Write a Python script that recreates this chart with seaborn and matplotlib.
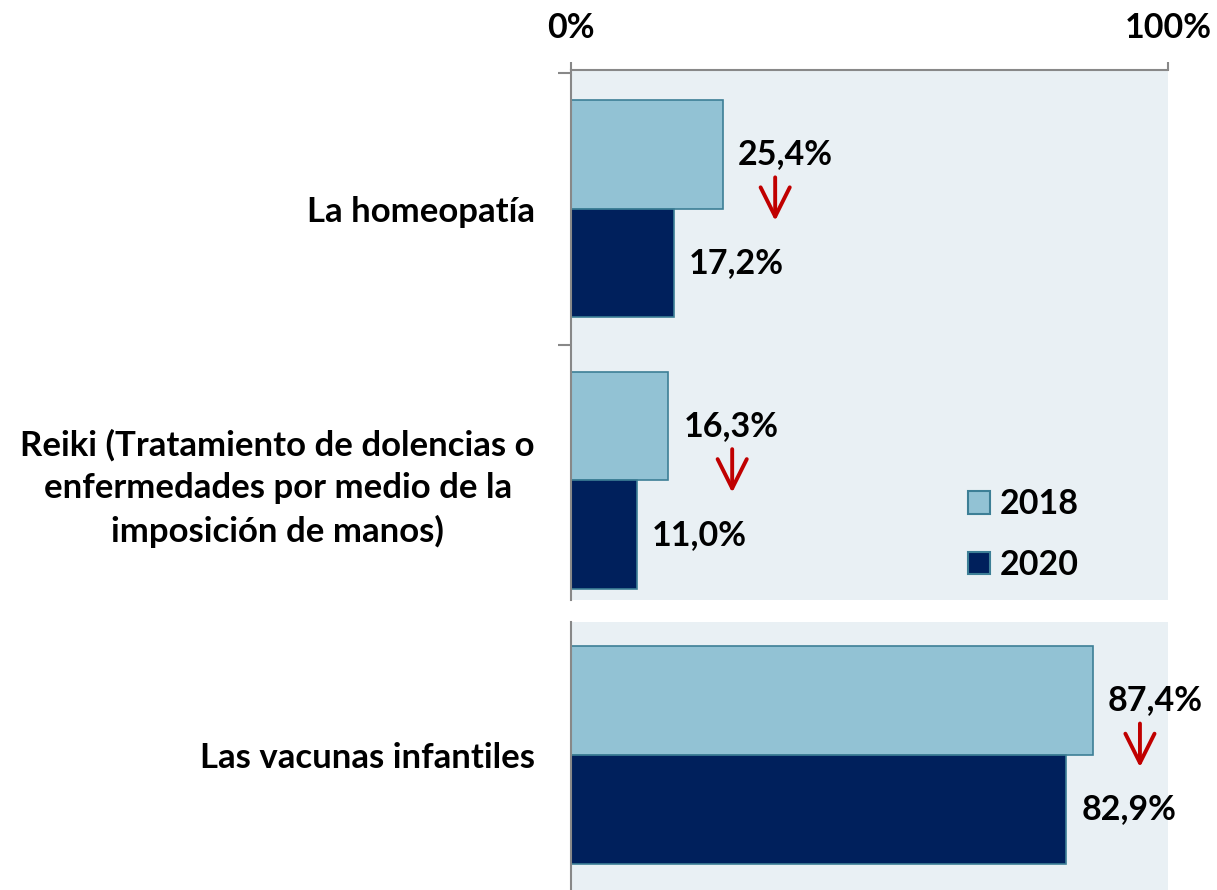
import seaborn as sns
import pandas as pd
import matplotlib.pyplot as plt
from matplotlib.patches import Patch

# data
categories = ["La homeopatía",
              "Reiki (Tratamiento de dolencias o\nenfermedades por medio de la\nimposición de manos)",
              "Las vacunas infantiles"]
years = ["2018", "2020"]
v2018 = [25.4, 16.3, 87.4]
v2020 = [17.2, 11.0, 82.9]
xticks = [0, 100]
xtick_labels = ["0%", "100%"]
# where the red arrows sit, to the right of the 2018 bar end (in % units)
arrow_dx = [8.8, 10.7, 7.9]

df = pd.DataFrame({
    "cat": categories * 2,
    "year": [years[0]] * 3 + [years[1]] * 3,
    "val": v2018 + v2020,
})

sns.set_style("white")
plt.rcParams["font.family"] = ["Lato", "DejaVu Sans"]
plt.rcParams["font.weight"] = "bold"
plt.rcParams["text.color"] = "black"

c18, c20 = "#92C2D4", "#00205C"
edge = "#3D7F96"
gray = "#888888"
bg = "#E9F0F4"
red = "#C00000"
FS = 24.5
FS_CAT = 25

fig = plt.figure(figsize=(12.17, 8.90), dpi=100)
ax1 = fig.add_axes([571 / 1217, 290 / 890, 597 / 1217, 530 / 890])
ax2 = fig.add_axes([571 / 1217, 0, 597 / 1217, 268 / 890])

pal = {years[0]: c18, years[1]: c20}
sns.barplot(data=df[df.cat != categories[2]], x="val", y="cat", hue="year",
            order=categories[:2], hue_order=years, palette=pal, width=0.8,
            edgecolor=edge, linewidth=1.2, saturation=1, legend=False, ax=ax1)
sns.barplot(data=df[df.cat == categories[2]], x="val", y="cat", hue="year",
            order=categories[2:], hue_order=years, palette=pal, width=0.8,
            edgecolor=edge, linewidth=1.2, saturation=1, legend=False, ax=ax2)

ax1.set_ylim(1.44, -0.51)
ax2.set_ylim(0.495, -0.487)

for ax, cats in ((ax1, categories[:2]), (ax2, categories[2:])):
    ax.set_facecolor(bg)
    ax.set_xlim(0, 100)
    ax.set_xlabel("")
    ax.set_ylabel("")
    for s in ("right", "bottom", "top"):
        ax.spines[s].set_visible(False)
    ax.spines["left"].set_color(gray)
    ax.spines["left"].set_linewidth(1.5)
    ax.tick_params(axis="y", length=0, pad=26, labelsize=FS_CAT, labelcolor="black")
    for lab in ax.get_yticklabels():
        lab.set_multialignment("center")
        lab.set_linespacing(1.4)
        lab.set_fontweight("bold")
    for cont in ax.containers:
        ax.bar_label(cont, labels=[f"{v:.1f}%".replace(".", ",") for v in cont.datavalues],
                     padding=11, fontsize=FS, fontweight="bold", color="black")
    # red arrows from 2018 down to 2020
    for i, c in enumerate(cats):
        k = categories.index(c)
        x = v2018[k] + arrow_dx[k]
        ax.annotate("", xy=(x, i + 0.045), xytext=(x, i - 0.115),
                    arrowprops=dict(arrowstyle="->,head_length=0.7,head_width=0.35",
                                    color=red, lw=2.8, mutation_scale=30,
                                    shrinkA=0, shrinkB=0))

ax2.set_xticks([])

ax1.spines["top"].set_visible(True)
ax1.spines["top"].set_color(gray)
ax1.spines["top"].set_linewidth(1.5)
ax1.xaxis.tick_top()
ax1.set_xticks(xticks)
ax1.set_xticklabels(xtick_labels, fontsize=FS, fontweight="bold")
ax1.tick_params(axis="x", top=True, length=6, width=1.5, color=gray, pad=12.5,
                labelcolor="black")
ax1.set_yticks([-0.5, 0.5], minor=True)
ax1.tick_params(axis="y", which="minor", left=True, length=9.5, width=1.5, color=gray)

handles = [Patch(facecolor=c18, edgecolor=edge, linewidth=1.5),
           Patch(facecolor=c20, edgecolor=edge, linewidth=1.5)]
ax1.legend(handles, years, loc="lower left", bbox_to_anchor=(0.613, -0.022), frameon=False,
           handlelength=0.65, handleheight=0.65, handletextpad=0.3, labelspacing=0.85,
           prop={"weight": "bold", "size": FS})

fig.savefig("out.png", dpi=100)
